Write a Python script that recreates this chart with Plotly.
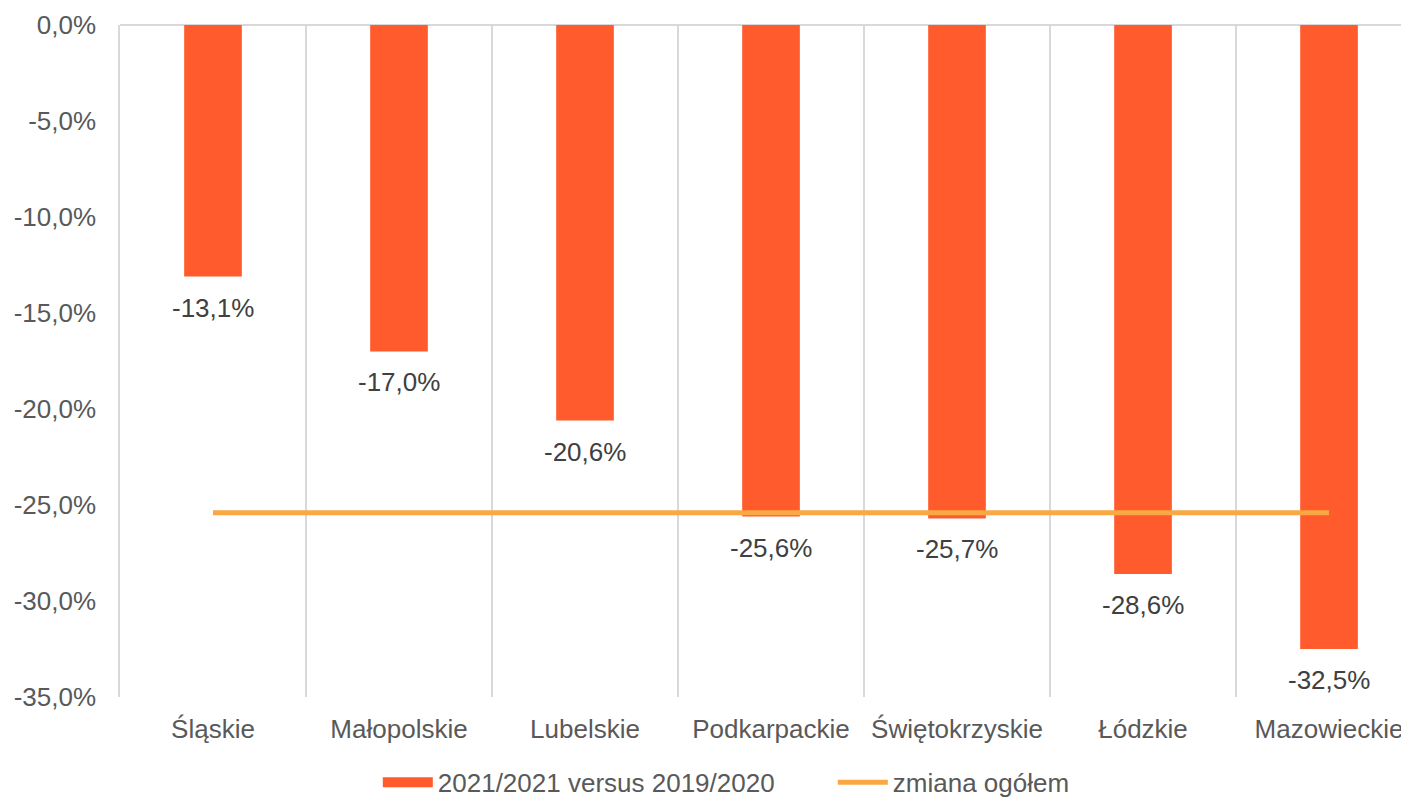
import plotly.graph_objects as go

categories = ["Śląskie", "Małopolskie", "Lubelskie", "Podkarpackie", "Świętokrzyskie", "Łódzkie", "Mazowieckie"]
change_values = [-13.1, -17.0, -20.6, -25.6, -25.7, -28.6, -32.5]
total_change = [-25.4] * len(categories)
y_tick_vals = [0, -5, -10, -15, -20, -25, -30, -35]
y_tick_text = ["0,0%", "-5,0%", "-10,0%", "-15,0%", "-20,0%", "-25,0%", "-30,0%", "-35,0%"]

bar_name = "2021/2021 versus 2019/2020"
line_name = "zmiana ogółem"

FONT = "Liberation Sans, Arial, sans-serif"
FS = 26
BAR_COLOR = "#FF5B2D"
LINE_COLOR = "#F9A843"
GRID = "#D9D9D9"

def fmt(v):
    return f"{v:.1f}".replace(".", ",") + "%"

fig = go.Figure()
fig.add_trace(go.Bar(
    x=categories, y=change_values, name=bar_name,
    marker=dict(color=BAR_COLOR, line=dict(width=0)),
    width=0.31, showlegend=False, legendgroup="bars",
))
# legend entry for the bars (wide rectangular swatch as in the reference)
fig.add_trace(go.Scatter(
    x=[None], y=[None], name=bar_name, mode="lines", legendgroup="bars",
    line=dict(color=BAR_COLOR, width=13),
))
fig.add_trace(go.Scatter(
    x=categories, y=total_change, name=line_name, mode="lines",
    line=dict(color=LINE_COLOR, width=5),
))

for c, v in zip(categories, change_values):
    fig.add_annotation(x=c, y=v, text=fmt(v), showarrow=False,
                       yanchor="middle", yshift=-31,
                       font=dict(family=FONT, size=FS, color="#404040"))

# page body has an 8px margin, so the figure is offset by 8px
fig.update_layout(
    width=1401, height=789,
    margin=dict(l=112, r=0, t=17, b=100, autoexpand=False),
    paper_bgcolor="white", plot_bgcolor="white",
    font=dict(family=FONT, size=FS, color="#595959"),
    showlegend=True,
    legend=dict(orientation="h", x=0.2, xanchor="left", y=-0.127, yanchor="middle",
                font=dict(family=FONT, size=FS, color="#595959"),
                itemwidth=50, entrywidth=390),
    bargap=0.69,
)
fig.update_xaxes(
    type="category", range=[-0.5, 6.43], automargin=False,
    tickson="boundaries", showgrid=True, gridcolor=GRID, gridwidth=1.5,
    ticks="", showline=False, ticklabelstandoff=14,
    tickfont=dict(family=FONT, size=FS, color="#595959"),
)
fig.update_yaxes(
    range=[-35, 0], tickvals=y_tick_vals, ticktext=y_tick_text, automargin=False,
    showgrid=False, zeroline=True, zerolinecolor=GRID, zerolinewidth=1.5,
    showline=True, linecolor=GRID, linewidth=1.5, ticks="",
    ticklabelstandoff=17,
    tickfont=dict(family=FONT, size=FS, color="#595959"),
)

fig.write_html("out.html")
